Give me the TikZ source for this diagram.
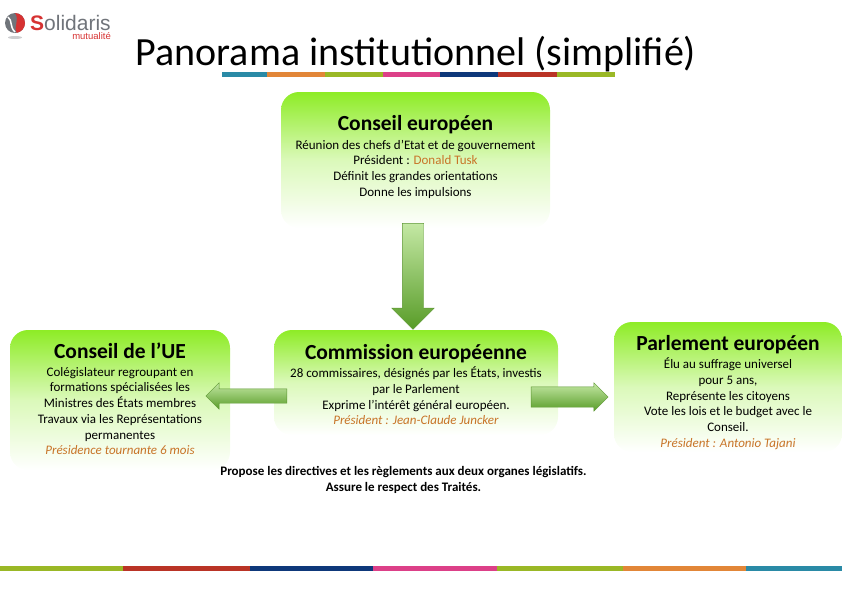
\documentclass[tikz,border=0pt]{standalone}
\usepackage{fontspec}
\setmainfont{Carlito}
\newfontfamily\logofont{Liberation Sans}
\usetikzlibrary{positioning}
\usetikzlibrary{shapes.arrows}
\definecolor{boxgreen}{RGB}{142,236,38}
\definecolor{arrowlight}{RGB}{196,232,164}
\definecolor{arrowdark}{RGB}{88,156,40}
\definecolor{arrowline}{RGB}{92,150,50}
\definecolor{accent}{RGB}{200,116,40}
\definecolor{logored}{RGB}{214,50,50}
\definecolor{logogray}{RGB}{112,116,122}
\definecolor{barteal}{RGB}{42,138,166}
\definecolor{barorange}{RGB}{226,134,56}
\definecolor{barolive}{RGB}{154,184,38}
\definecolor{barpink}{RGB}{220,64,136}
\definecolor{barnavy}{RGB}{14,56,122}
\definecolor{barred}{RGB}{186,52,38}
\tikzset{
    panel/.style={rectangle, rounded corners=18pt, top color=boxgreen, bottom color=white, middle color=boxgreen!32!white, inner sep=0pt},
    heading/.style={font=\fontsize{21.5}{23}\selectfont\bfseries, inner sep=0pt},
    details/.style={font=\fontsize{13}{15.7}\selectfont, align=center, inner sep=0pt},
    blockarrow/.style={single arrow, draw=arrowline, top color=arrowlight, bottom color=arrowdark, inner sep=0pt, single arrow head extend=#1, single arrow tip angle=90}
}
\begin{document}
\begin{tikzpicture}[x=1pt, y=-1pt, >=latex]
        \useasboundingbox (0,0) rectangle (842,595);
        % Logo
        \fill[logogray!35] (15,37.5) ellipse (7 and 1.5);
        \fill[logogray] (15,23) circle (10);
        \fill[logored] (15,13) arc (-90:80:10) .. controls (13,28) and (20,20) .. (15,13);
        \draw[white, line width=1.5pt] (8,17) .. controls (13,21) and (9,26) .. (15,32);
        \node[anchor=base west, inner sep=0pt, text=logogray, font=\logofont\fontsize{21}{21}\selectfont] (logo) at (30,30) {\textcolor{logored}{\textbf{S}}olidaris};
        \node[anchor=base east, inner sep=0pt, text=logored, font=\logofont\fontsize{9.5}{9.5}\selectfont] (logosub) at (111,39.5) {mutualité};
        % Title
        \node[inner sep=0pt, font=\fontsize{40}{42}\selectfont] (title) at (416,54) {Panorama institutionnel (simplifié)};
        % Top and bottom colour bars
        \foreach \xa/\xb/\barcol in {222/267/barteal, 267/325/barorange, 325/383/barolive, 383/440/barpink, 440/498/barnavy, 498/557/barred, 557/615/barolive}
            \fill[\barcol] (\xa,72) rectangle (\xb,77);
        \foreach \xa/\xb/\barcol in {0/123/barolive, 123/250/barred, 250/373/barnavy, 373/497/barpink, 497/623/barolive, 623/746/barorange, 746/842/barteal}
            \fill[\barcol] (\xa,566) rectangle (\xb,571);

        % European Council
        \node[panel, minimum width=269pt, minimum height=136pt] (council) at (415.5,160) {};
        \node[heading, below=23pt of council.north] (council_title) {Conseil européen};
        \node[details, below=6pt of council_title] (council_text) {Réunion des chefs d’Etat et de gouvernement\\Président : \textcolor{accent}{Donald Tusk}\\Définit les grandes orientations\\Donne les impulsions};

        % Council of the EU
        \node[panel, minimum width=220pt, minimum height=140pt] (eucouncil) at (120,400) {};
        \node[heading, below=13pt of eucouncil.north] (eucouncil_title) {Conseil de l’UE};
        \node[details, below=8pt of eucouncil_title] (eucouncil_text) {Colégislateur regroupant en\\formations spécialisées les\\Ministres des États membres\\Travaux via les Représentations\\permanentes\\\textcolor{accent}{\textit{Présidence tournante 6 mois}}};

        % Commission
        \node[panel, minimum width=284pt, minimum height=105pt] (commission) at (416,382.5) {};
        \node[heading, below=14pt of commission.north] (commission_title) {Commission européenne};
        \node[details, below=4pt of commission_title] (commission_text) {28 commissaires, désignés par les États, investis\\par le Parlement\\Exprime l’intérêt général européen.\\\textcolor{accent}{\textit{Président : Jean-Claude Juncker}}};
        \node[details, font=\fontsize{13}{16}\selectfont\bfseries] (commission_note) at (403.5,480) {Propose les directives et les règlements aux deux organes législatifs.\\Assure le respect des Traités.};

        % Parliament
        \node[panel, minimum width=228pt, minimum height=130pt] (parliament) at (728,387) {};
        \node[heading, below=13pt of parliament.north] (parliament_title) {Parlement européen};
        \node[details, below=4pt of parliament_title] (parliament_text) {Élu au suffrage universel\\pour 5 ans,\\Représente les citoyens\\Vote les lois et le budget avec le\\Conseil.\\\textcolor{accent}{\textit{Président : Antonio Tajani}}};

        % Arrows between the panels
        \node[blockarrow=10.5pt, inner sep=10.5pt, minimum height=106pt, shape border rotate=270] (arrow_down) at (413,271) {};
        \node[blockarrow=6pt, inner sep=7pt, minimum height=81pt, shape border rotate=180] (arrow_left) at (250,396) {};
        \node[blockarrow=4pt, inner sep=10pt, minimum height=77pt] (arrow_right) at (564.5,397) {};
\end{tikzpicture}
\end{document}
